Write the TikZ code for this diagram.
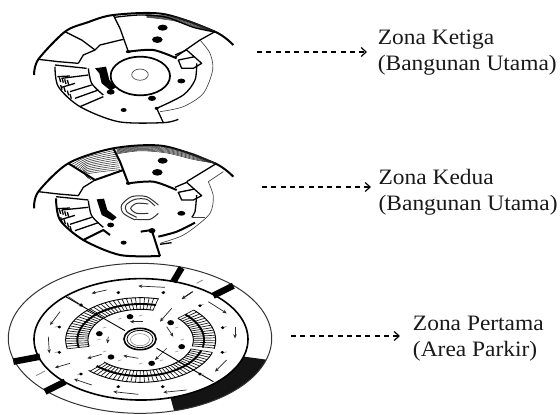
\documentclass[tikz,border=0pt]{standalone}
\usepackage{fontspec}
\setmainfont{Liberation Serif}
\usetikzlibrary{arrows.meta}
\tikzset{
  wall/.style={line width=1.3pt,black,line join=round},
  thick wall/.style={line width=2pt,black,line join=round},
  thin wall/.style={line width=0.65pt,black!75},
  hatchline/.style={line width=0.5pt,black!85},
  blob/.style={fill=black,draw=none},
  flow/.style={line width=0.7pt,black!85,-{Stealth[length=4pt,width=3.5pt]}},
  bar/.style={line width=6.5pt,black},
  zone/.style={font=\fontsize{22}{26}\selectfont,align=left,anchor=west,xscale=1.065,inner ysep=0pt,text=black!90},
  dashedarrow/.style={line width=1.1pt,dash pattern=on 5pt off 4.3pt,-{Straight Barb[length=5pt,width=9pt,line width=1.2pt]}}
}
\newcommand{\dotat}[3]{\fill (#1) ellipse [x radius=#2,y radius=#3];}
\begin{document}
\begin{tikzpicture}[x=1pt,y=1pt]
\useasboundingbox (0pt,0pt) rectangle (560pt,-415pt);
% ---------------- plan 1
\begin{scope}[shift={(20pt,0pt)},x=0.33333pt,y=-0.33333pt]
 \draw[thick wall] plot[smooth] coordinates {(42,225)(55,178)(135,95)(200,68)(280,45)(430,42)(585,95)(640,135)};
 \foreach \k in {1,...,7}{
  \draw[hatchline] plot[smooth] coordinates {(380,{42+\k*1.4})(460,{48+\k*2})(520,{64+\k*2.4})(585,95)};}
 \draw[wall] plot[smooth] coordinates {(283,52)(360,45)(440,52)(520,82)(585,96)};
 \draw[wall] (280,45)--(300,85)--(325,155);
 \draw[wall] (135,95)--(185,120)--(225,150);
 \draw[wall] (55,178)--(115,185)--(175,190);
 \draw[wall] (175,190)--(190,165)--(225,150)--(240,135)--(310,118);
 \draw[thick wall] plot[smooth] coordinates {(325,155)(400,150)(470,175)};
 \draw[wall] (585,95)--(540,120)--(465,172);
 \draw[wall] (465,165)--(500,150)--(545,190)--(520,205)--(485,205)--(475,180)--(525,170);
 \draw[thin wall] plot[smooth] coordinates {(540,120)(570,160)(578,210)(550,280)(490,320)(420,335)};
 \draw[wall] plot[smooth] coordinates {(530,190)(525,240)(490,285)(410,325)};
 \draw[wall] (410,325)--(430,368);
 \draw[wall] plot[smooth] coordinates {(105,200)(115,260)(180,320)(295,365)(430,368)(475,358)};
 \draw[wall] (180,320)--(250,290);
 \draw[wall] (105,195)--(200,205) (125,235)--(205,225) (150,275)--(215,255) (165,295)--(235,270);
 \draw[wall] plot[smooth] coordinates {(205,205)(215,250)(250,285)};
 \foreach \x/\y in {118/232,126/234,134/238,142/240,122/255,132/262,142/272,150/282}{\draw[wall] (\x,\y)--++(4,14);}
 \draw[wall] (112,230)--(150,228) (125,262)--(165,250);
 \fill[blob] (225,205)--(258,200)--(268,240)--(288,262)--(272,272)--(245,250)--(238,220)--cycle;
 \dotat{428,83}{5pt}{3pt} \dotat{412,119}{5.3pt}{3.3pt} \dotat{484,243}{4pt}{2.4pt}
 \dotat{396,295}{4pt}{2.6pt} \dotat{272,276}{4pt}{2.6pt} \dotat{311,330}{3pt}{2pt}
 \dotat{325,155}{2.5pt}{1.5pt} \dotat{410,325}{2pt}{1.5pt}
 \draw[line width=1.7pt] (361,228) ellipse [x radius=29.7pt,y radius=19.3pt];
 \draw[line width=0.7pt,black!70] (360,224) ellipse [x radius=8.3pt,y radius=5.6pt];
\end{scope}
% ---------------- plan 2
\begin{scope}[shift={(20pt,-130pt)},x=0.33333pt,y=-0.33333pt]
 \draw[thick wall] plot[smooth] coordinates {(42,235)(55,185)(145,100)(280,55)(430,48)(585,100)(640,140)};
 \foreach \k in {1,...,7}{
  \draw[hatchline] plot[smooth] coordinates {(290,{55+\k*2.4})(360,{47+\k*2.2})(440,{50+\k*2.7})(520,{68+\k*2.9})(585,100)};}
 \foreach \k in {1,...,11}{
  \draw[hatchline] plot[smooth] coordinates {({148+\k*6},{100+\k*4.5})(200,{76+\k*5.1})({283+\k*1.6},{55+\k*5.8})};}
 \draw[thick wall] (145,100)--(225,150)--(310,120);
 \draw[thick wall] (280,55)--(300,95)--(325,160);
 \draw[wall] (55,185)--(115,192)--(175,197);
 \draw[wall] (175,197)--(190,172)--(225,150);
 \draw[thick wall] plot[smooth] coordinates {(325,160)(400,155)(470,180)};
 \draw[wall] (590,100)--(500,155);
 \draw[wall] (465,172)--(500,157)--(545,197)--(520,210)--(485,210)--(475,187)--(525,177);
 \draw[thin wall] (610,125)--(565,155);
 \draw[thin wall] plot[smooth] coordinates {(565,155)(580,200)(570,250)(520,295)(480,320)(420,340)};
 \draw[wall] plot[smooth] coordinates {(530,195)(525,245)(515,262)};
 \draw[thin wall] (515,262)--(555,262);
 \draw[thick wall] plot[smooth] coordinates {(415,320)(470,305)(525,278)};
 \draw[thick wall] (362,305)--(395,300)--(420,378);
 \draw[wall] (420,343)--(455,338);
 \draw[thick wall] plot[smooth] coordinates {(108,205)(120,270)(190,330)(300,375)(420,378)};
 \draw[thick wall] (190,330)--(250,300)--(270,315);
 \draw[wall] (108,200)--(205,210) (125,240)--(205,232) (150,283)--(215,262) (165,302)--(235,278);
 \draw[wall] plot[smooth] coordinates {(205,212)(215,257)(250,292)};
 \foreach \x/\y in {118/238,126/240,134/244,142/246,122/262,132/268,142/278,150/288}{\draw[wall] (\x,\y)--++(4,14);}
 \draw[wall] (112,236)--(150,234) (125,268)--(165,256);
 \fill[blob] (230,208)--(252,206)--(262,240)--(290,262)--(278,272)--(245,255)--cycle;
 \dotat{428,92}{5pt}{3pt} \dotat{412,127}{5.3pt}{3.3pt} \dotat{484,250}{4pt}{2.4pt}
 \dotat{396,302}{3.5pt}{2.6pt} \dotat{272,285}{3.5pt}{2.4pt} \dotat{311,338}{3pt}{2pt}
 \dotat{325,160}{2.5pt}{1.5pt}
 \draw[line width=1pt,black!80] plot[smooth] coordinates {(345,270)(310,250)(305,225)(335,200)(380,200)(415,225)};
 \draw[line width=1pt,black!80] plot[smooth] coordinates {(350,262)(320,245)(318,225)(345,208)(380,208)(405,228)};
 \draw[line width=1pt,black!80] plot[smooth] coordinates {(385,222)(350,220)(332,235)(350,250)(385,250)};
 \draw[line width=1pt,black!80] plot[smooth] coordinates {(345,268)(390,268)(415,250)};
\end{scope}
% ---------------- plan 3
\begin{scope}[shift={(0pt,-255pt)},x=0.33333pt,y=-0.33333pt]
 \fill[black!92] plot[domain=16.5:75,samples=30] ({420+395*cos(\x)},{250+225*sin(\x)})
   -- plot[domain=74:16.5,samples=30] ({423+321*cos(\x)},{253+182*sin(\x)}) -- cycle;
 \draw[line width=1pt,black!80] (420,250) ellipse [x radius=131.7pt,y radius=75pt];
 \draw[line width=1.6pt] (423,253) ellipse [x radius=107pt,y radius=60.7pt];
 \draw[bar] (545,38)--(520,80);
 \draw[bar] (700,92)--(640,122);
 \draw[bar] (40,320)--(120,305);
 \draw[bar] (135,410)--(195,380);
 \draw[line width=1pt,black!40] (108,362)--(135,348) (590,85)--(608,75);
 % stairs
 \foreach \a/\b in {168/284,315/372,17/134}{
  \pgfmathsetmacro{\anext}{\a+3.5}
  \foreach \t in {\a,\anext,...,\b}{
   \draw[line width=0.7pt,black!90] ({422+225*cos(\t)},{255+127*sin(\t)})--({422+158*cos(\t)},{255+92*sin(\t)});}
  \draw[line width=0.9pt] plot[domain=\a:\b,samples=40] ({422+225*cos(\x)},{255+127*sin(\x)});
  \draw[line width=0.9pt] plot[domain=\a:\b,samples=40] ({422+158*cos(\x)},{255+92*sin(\x)});
  \draw[line width=1.9pt] plot[domain=\a:\b,samples=40] ({422+190*cos(\x)},{255+108*sin(\x)});
 }
 % cross lines
 \draw[line width=0.9pt] (197,125)--(375,227) (470,280)--(640,380) (578,110)--(548,130);
 % rings
 \draw[line width=1.6pt] (420,252) ellipse [x radius=16pt,y radius=10.7pt];
 \draw[line width=0.8pt] (420,252) ellipse [x radius=13pt,y radius=8.7pt];
 \draw[line width=0.5pt,black!50] (420,254) ellipse [x radius=9.5pt,y radius=6pt];
 % parking marks
 \foreach \t in {0,30,...,330}{
  \pgfmathsetmacro{\u}{\t+15}
  \draw[line width=0.7pt,black!35] ({417+262*cos(\u)},{255+148*sin(\u)})--++(10,-3);
  \draw[line width=0.7pt,black!35] ({417+125*cos(\t)},{255+72*sin(\t)})--++(10,-3);}
 % flow arrows
 \foreach \x/\y/\u/\v in {495/97/415/93,320/105/275/115,180/170/150/210,145/245/148/295,210/325/165/338,
   275/390/222/372,415/418/340/410,560/405/490/412,625/140/680/175,705/215/705/250,680/315/645/350,
   578/110/545/132,515/160/480/200,500/215/520/245,500/280/465/315,415/310/370/302,305/298/262/310,
   430/200/390/200,325/245/322/265,205/125/250/155}{
  \draw[flow] (\x,\y)--(\u,\v);}
 % columns
 \foreach \x/\y in {355/113,490/113,600/152,668/218,667/292,600/357,488/395,355/395,243/357,178/292,178/216,243/150}{
  \dotat{\x,\y}{1.9pt}{1.5pt}}
 \foreach \x/\y in {390/185,512/203,298/236,545/275,333/306,455/325}{
  \dotat{\x,\y}{3.4pt}{2.6pt}}
\end{scope}
% ---------------- labels and connectors
\node[zone,inner xsep=10pt] (t1) at (367pt,-53pt) {Zona Ketiga\\(Bangunan Utama)};
\node[zone,inner xsep=7pt] (t2) at (371pt,-192pt) {Zona Kedua\\(Bangunan Utama)};
\node[zone,inner xsep=12pt] (t3) at (400pt,-338.5pt) {Zona Pertama\\(Area Parkir)};
\coordinate (s1) at (257pt,-52pt);
\coordinate (s2) at (262pt,-187pt);
\coordinate (s3) at (291pt,-336pt);
\draw[dashedarrow] (s1)--(s1-|t1.west);
\draw[dashedarrow] (s2)--(s2-|t2.west);
\draw[dashedarrow] (s3)--(s3-|t3.west);
\end{tikzpicture}
\end{document}
